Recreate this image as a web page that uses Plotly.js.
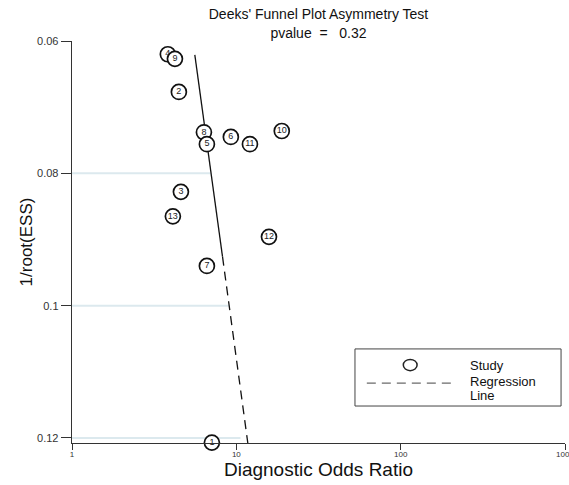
<!DOCTYPE html>
<html>
<head>
<meta charset="utf-8">
<script src="https://cdn.plot.ly/plotly-3.0.1.min.js"></script>
<style>html,body{margin:0;padding:0;background:#fff;}#chart{width:569px;height:485px;}</style>
</head>
<body>
<div id="chart"></div>
<script>
// Studies: diagnostic odds ratio (x) vs 1/root(ESS) (y)
var studyLabels = ["4", "9", "2", "8", "5", "6", "11", "10", "3", "13", "12", "7", "1"];
var studyDOR    = [3.83, 4.23, 4.47, 6.35, 6.62, 9.26, 12.1, 18.9, 4.60, 4.11, 15.8, 6.62, 7.10];
var studyInvESS = [0.0620, 0.0627, 0.0677, 0.0738, 0.0756, 0.0745, 0.0756, 0.0736, 0.0828, 0.0865, 0.0896, 0.0940, 0.1207];

// Regression line: solid part and dashed part
var regSolidX  = [5.59, 8.24];
var regSolidY  = [0.0621, 0.0926];
var regDashX   = [8.24, 11.75];
var regDashY   = [0.0926, 0.1208];

// Light reference lines from the axis to the regression line
var guideY     = [0.08, 0.10, 0.12];
var guideEndX  = [7.0, 9.0, 10.6];

var yTickVals  = [0.06, 0.08, 0.10, 0.12];
var yTickText  = ["0.06", "0.08", "0.1", "0.12"];
var xTickVals  = [1, 10, 100, 1000];
var xTickText  = ["1", "10", "100", "1000"];

var traces = [];
for (var i = 0; i < guideY.length; i++) {
  traces.push({
    x: [1, guideEndX[i]], y: [guideY[i], guideY[i]],
    mode: "lines", line: {color: "#dce9ee", width: 2},
    hoverinfo: "skip", showlegend: false, cliponaxis: false
  });
}
traces.push({
  x: regSolidX, y: regSolidY, mode: "lines",
  line: {color: "#111", width: 1.3}, showlegend: false
});
traces.push({
  x: regDashX, y: regDashY, mode: "lines",
  line: {color: "#111", width: 1.3, dash: "9px,6px"}, showlegend: false
});
// first study drawn separately so the next one covers it
traces.push({
  x: studyDOR.slice(0, 1), y: studyInvESS.slice(0, 1), text: studyLabels.slice(0, 1),
  mode: "markers+text", textposition: "middle center",
  textfont: {family: "Liberation Sans, Arial, sans-serif", size: 9, color: "#222"},
  marker: {symbol: "circle", size: 15, color: "#fff", line: {color: "#111", width: 1.7}},
  cliponaxis: false, showlegend: false
});
traces.push({
  x: studyDOR.slice(1), y: studyInvESS.slice(1), text: studyLabels.slice(1),
  mode: "markers+text", textposition: "middle center",
  textfont: {family: "Liberation Sans, Arial, sans-serif", size: 9, color: "#222"},
  marker: {symbol: "circle", size: 15, color: "#fff", line: {color: "#111", width: 1.7}},
  cliponaxis: false, showlegend: false
});

var fontFam = "Liberation Sans, Arial, sans-serif";
var layout = {
  width: 569, height: 485,
  margin: {l: 72, r: 4, t: 41, b: 42},
  paper_bgcolor: "#fff", plot_bgcolor: "#fff",
  showlegend: false,
  font: {family: fontFam, color: "#222"},
  title: {
    text: "Deeks' Funnel Plot Asymmetry Test<br>pvalue  =   0.32",
    font: {family: fontFam, size: 14, color: "#111"},
    xref: "paper", x: 0.5, xanchor: "center",
    yref: "container", y: 0.96, yanchor: "middle"
  },
  xaxis: {
    type: "log", range: [0, 3],
    tickvals: xTickVals, ticktext: xTickText,
    tickfont: {family: fontFam, size: 8, color: "#333"},
    ticks: "outside", ticklen: 6, tickcolor: "#333", tickwidth: 1,
    ticklabelstandoff: -3, ticklabeloverflow: "allow",
    showline: true, linecolor: "#333", linewidth: 1.3,
    showgrid: false, zeroline: false,
    title: {text: "Diagnostic Odds Ratio", font: {family: fontFam, size: 19, color: "#111"}, standoff: 3}
  },
  yaxis: {
    range: [0.12076, 0.06],
    tickvals: yTickVals, ticktext: yTickText,
    tickfont: {family: fontFam, size: 11, color: "#333"},
    ticks: "outside", ticklen: 10, tickcolor: "#333", tickwidth: 1,
    showline: true, linecolor: "#333", linewidth: 1.3,
    showgrid: false, zeroline: false,
    title: {text: "1/root(ESS)", font: {family: fontFam, size: 17, color: "#111"}, standoff: 0}
  },
  shapes: [
    {type: "rect", xref: "paper", yref: "paper", x0: 0.574, x1: 0.992, y0: 0.092, y1: 0.234,
     line: {color: "#444", width: 1}, fillcolor: "#fff"},
    {type: "circle", xref: "paper", yref: "paper", x0: 0.672, x1: 0.700, y0: 0.180, y1: 0.208,
     line: {color: "#222", width: 1.5}},
    {type: "line", xref: "paper", yref: "paper", x0: 0.598, x1: 0.773, y0: 0.149, y1: 0.149,
     line: {color: "#444", width: 1, dash: "9px,6px"}}
  ],
  annotations: [
    {xref: "paper", yref: "paper", x: 0.803, y: 0.194, xanchor: "left", yanchor: "middle",
     text: "Study", showarrow: false, font: {family: fontFam, size: 13, color: "#111"}},
    {xref: "paper", yref: "paper", x: 0.803, y: 0.154, xanchor: "left", yanchor: "middle",
     text: "Regression", showarrow: false, font: {family: fontFam, size: 13, color: "#111"}},
    {xref: "paper", yref: "paper", x: 0.803, y: 0.119, xanchor: "left", yanchor: "middle",
     text: "Line", showarrow: false, font: {family: fontFam, size: 13, color: "#111"}}
  ]
};

Plotly.newPlot("chart", traces, layout, {displayModeBar: false, staticPlot: true});
</script>
</body>
</html>
